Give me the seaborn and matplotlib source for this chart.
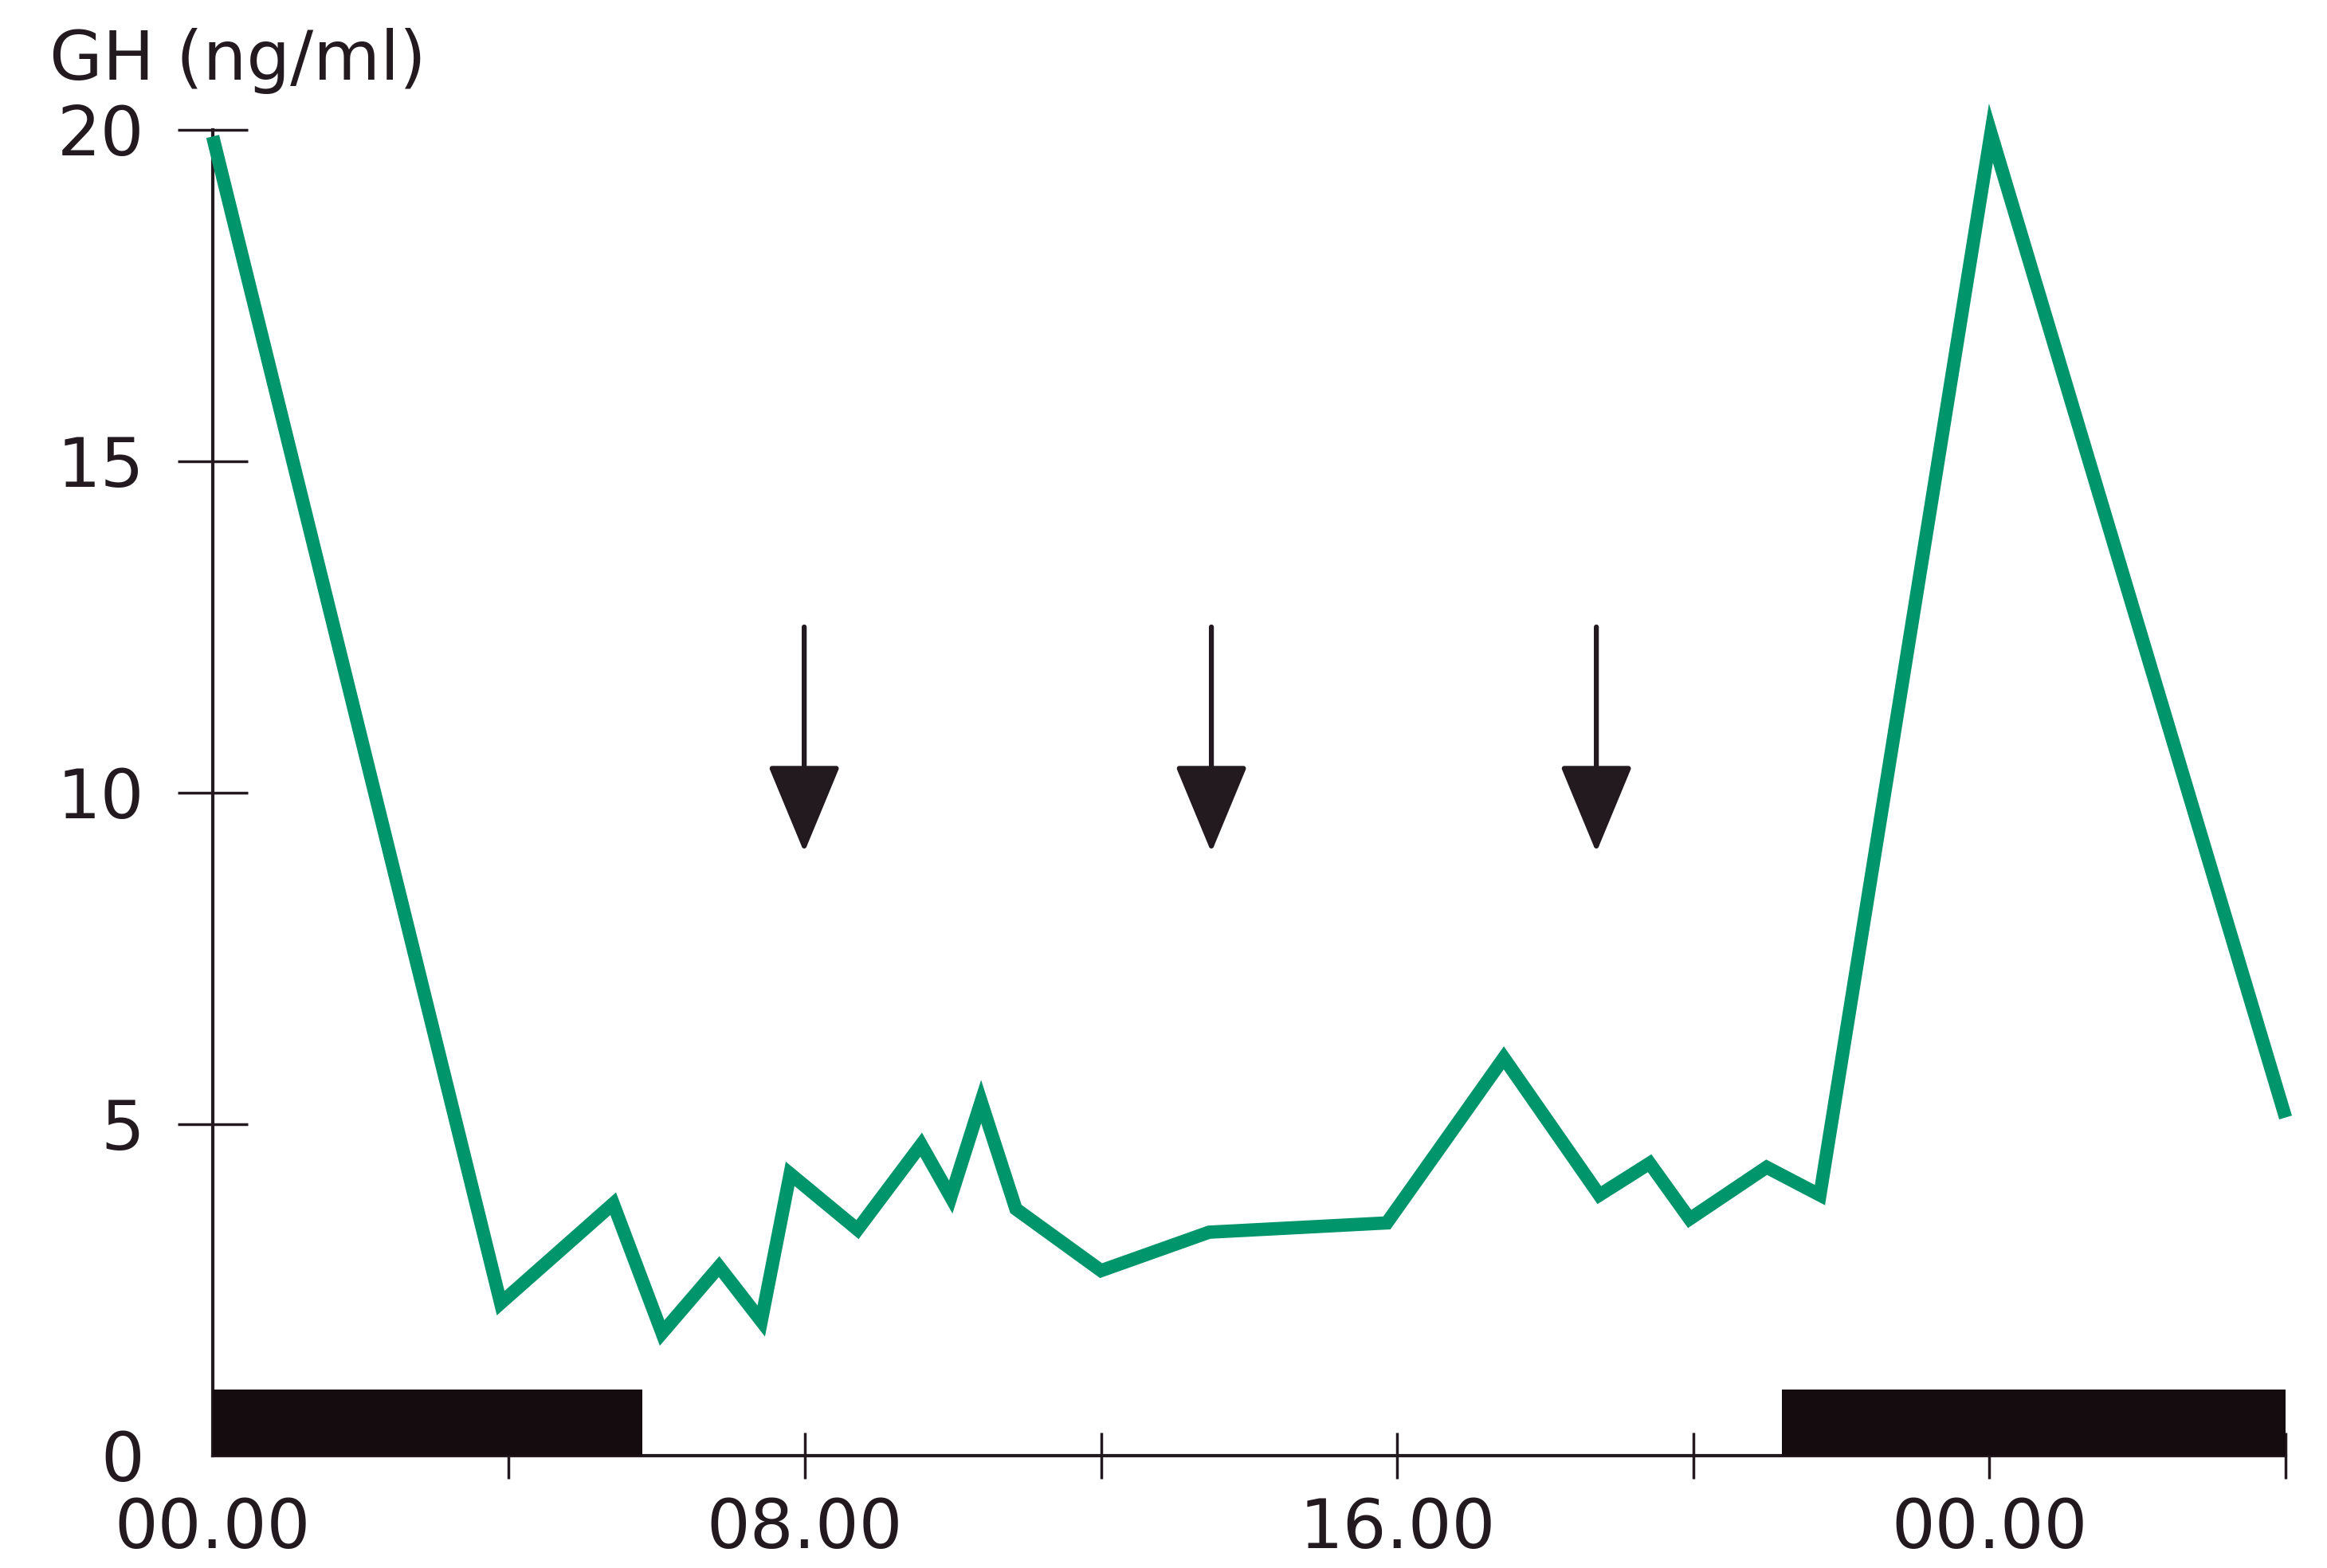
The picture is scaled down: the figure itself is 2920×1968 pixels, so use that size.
import matplotlib
matplotlib.use("Agg")
import matplotlib.pyplot as plt
import seaborn as sns
import pandas as pd

# GH profile over ~28 h (clock hours from midnight)
hours = [0.0, 3.89, 5.41, 6.07, 6.84, 7.41, 7.80, 8.71, 9.57, 9.97, 10.38, 10.85,
         12.0, 13.46, 15.86, 17.44, 18.73, 19.41, 19.95, 20.99, 21.71, 24.02, 28.0]
gh = [19.9, 2.3, 3.8, 1.85, 2.85, 2.03, 4.25, 3.41, 4.69, 3.9, 5.34, 3.72,
      2.79, 3.37, 3.51, 6.0, 3.93, 4.41, 3.57, 4.35, 3.93, 19.95, 5.1]

# sleep periods (black bars)
sleep_start = [0.0, 21.2]
sleep_end = [5.8, 28.0]
sleep_height = 1.0

# arrows (meals / injections)
arrow_times = [7.99, 13.49, 18.69]
arrow_top = 12.5
arrow_tip = 9.1

x_ticks = [0, 4, 8, 12, 16, 20, 24, 28]
x_labels = ["00.00", "", "08.00", "", "16.00", "", "00.00", ""]
y_ticks = [0, 5, 10, 15, 20]

df = pd.DataFrame({"hour": hours, "GH": gh})

sns.set_theme(style="white")
plt.rcParams["font.family"] = ["DejaVu Sans"]
ink = "#231a1f"

fig = plt.figure(figsize=(29.2, 19.68), dpi=100)
ax = fig.add_axes([0.0914, 0.0717, 0.8908, 0.8455])

# sleep bars
ax.bar(x=sleep_start, height=[sleep_height] * len(sleep_start),
       width=[e - s for s, e in zip(sleep_start, sleep_end)],
       align="edge", color="#150c0f", linewidth=0, zorder=3)

# GH line
sns.lineplot(data=df, x="hour", y="GH", ax=ax, color="#00956a",
             sort=False, estimator=None, zorder=4, clip_on=False)
for ln in ax.get_lines():
    ln.set_linewidth(12)
    ln.set_solid_joinstyle("miter")
    ln.set_solid_capstyle("butt")

# arrows
for t in arrow_times:
    ax.annotate("", xy=(t, arrow_tip), xytext=(t, arrow_top),
                arrowprops=dict(arrowstyle="-|>,head_length=0.7,head_width=0.29",
                                mutation_scale=100, color=ink, lw=4.5,
                                shrinkA=0, shrinkB=0))

ax.set_xlim(0, 28)
ax.set_ylim(0, 20)
ax.set_xticks(x_ticks)
ax.set_xticklabels(x_labels)
ax.set_yticks(y_ticks)
ax.set_yticklabels([str(v) for v in y_ticks])

for side in ["top", "right"]:
    ax.spines[side].set_visible(False)
for side in ["left", "bottom"]:
    ax.spines[side].set_linewidth(3)
    ax.spines[side].set_color(ink)

ax.tick_params(axis="x", direction="inout", length=42, width=2.5, color=ink,
               labelsize=62, labelcolor=ink, pad=16, bottom=True)
ax.tick_params(axis="y", direction="inout", length=63, width=2.5, color=ink,
               labelsize=62, labelcolor=ink, pad=30, left=True)
ax.xaxis.get_major_ticks()[0].tick1line.set_visible(False)
ax.yaxis.get_major_ticks()[0].tick1line.set_visible(False)
ax.set_xlabel("")
ax.set_ylabel("")
ax.grid(False)

fig.text(62 / 2920, 1 - 100 / 1968, "GH (ng/ml)", fontsize=62, color=ink,
         ha="left", va="baseline")

fig.savefig("out.png", dpi=100, facecolor="white")
